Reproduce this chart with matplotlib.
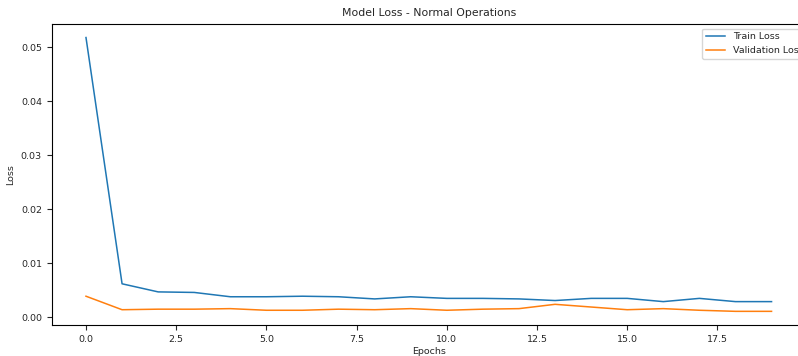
import matplotlib.pyplot as plt
import numpy as np

# loss per epoch
epochs = np.arange(20)
train_loss = [0.0518, 0.0062, 0.0047, 0.0046, 0.0038, 0.0038, 0.0039, 0.0038, 0.0034, 0.0038,
              0.0035, 0.0035, 0.0034, 0.0031, 0.0035, 0.0035, 0.0029, 0.0035, 0.0029, 0.0029]
val_loss = [0.0039, 0.0014, 0.0015, 0.0015, 0.0016, 0.0013, 0.0013, 0.0015, 0.0014, 0.0016,
            0.0013, 0.0015, 0.0016, 0.0024, 0.0019, 0.0014, 0.0016, 0.0013, 0.0011, 0.0011]

plt.rcParams['font.size'] = 6.8
plt.rcParams['text.color'] = '#262626'
plt.rcParams['axes.labelcolor'] = '#262626'
plt.rcParams['xtick.color'] = '#262626'
plt.rcParams['ytick.color'] = '#262626'

fig = plt.figure(figsize=(7.98, 3.56), dpi=100)
# the reference is cropped on the right, so the axes run past the figure edge
ax = fig.add_axes([0.0648, 0.087, 0.945, 0.846])
ax.plot(epochs, train_loss, label='Train Loss', linewidth=1.1)
ax.plot(epochs, val_loss, label='Validation Loss', linewidth=1.1)
ax.set_title('Model Loss - Normal Operations', fontsize=7.8)
ax.set_xlabel('Epochs', labelpad=2)
ax.set_ylabel('Loss')
ax.legend(loc='upper right', bbox_to_anchor=(1.008, 1.0))

fig.savefig('out.png')
